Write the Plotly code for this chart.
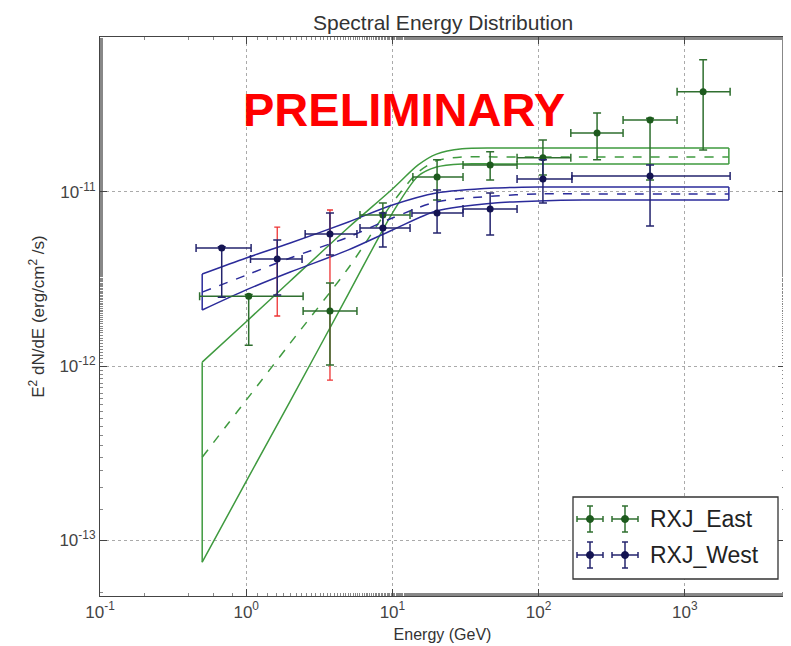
import plotly.graph_objects as go

# ---------------- data ----------------
# model bands (butterflies), energies in GeV, E^2 dN/dE in erg/cm^2/s
west_band_e = [0.5, 1, 2, 5, 10, 20, 50, 100, 200, 500, 1000, 2000]
west_upper = [3.38e-12, 4.18e-12, 5.09e-12, 6.73e-12, 8.42e-12, 9.87e-12, 1.054e-11, 1.069e-11, 1.069e-11, 1.069e-11, 1.069e-11, 1.069e-11]
west_lower = [2.10e-12, 2.74e-12, 3.47e-12, 4.65e-12, 6.05e-12, 7.78e-12, 8.65e-12, 8.88e-12, 9.00e-12, 9.00e-12, 9.00e-12, 9.00e-12]
west_center = [2.66e-12, 3.33e-12, 4.18e-12, 5.51e-12, 7.09e-12, 8.77e-12, 9.48e-12, 9.75e-12, 9.75e-12, 9.75e-12, 9.75e-12, 9.75e-12]

east_band_e = [0.5, 1, 2, 5, 10, 15, 20, 30, 50, 100, 200, 500, 1000, 2000]
east_upper = [1.054e-12, 1.80e-12, 3.08e-12, 6.25e-12, 1.04e-11, 1.43e-11, 1.65e-11, 1.77e-11, 1.79e-11, 1.79e-11, 1.79e-11, 1.79e-11, 1.79e-11, 1.79e-11]
east_lower = [7.48e-14, 2.18e-13, 6.29e-13, 2.60e-12, 7.57e-12, 1.236e-11, 1.393e-11, 1.45e-11, 1.45e-11, 1.45e-11, 1.45e-11, 1.45e-11, 1.45e-11, 1.45e-11]
east_center = [3.00e-13, 6.38e-13, 1.355e-12, 3.66e-12, 8.65e-12, 1.30e-11, 1.51e-11, 1.59e-11, 1.59e-11, 1.59e-11, 1.59e-11, 1.59e-11, 1.59e-11, 1.59e-11]

# flux points
west_e = [0.68, 1.63, 3.74, 8.6, 20.2, 46.6, 107, 578]
west_e_lo = [0.454, 1.07, 2.53, 6.0, 13.6, 30.4, 71.2, 169]
west_e_hi = [1.08, 2.41, 5.72, 13.2, 30.4, 71.2, 169, 2040]
west_f = [4.77e-12, 4.12e-12, 5.74e-12, 6.21e-12, 7.57e-12, 7.98e-12, 1.188e-11, 1.236e-11]
west_f_hi = [4.85e-12, 5.30e-12, 7.57e-12, 7.57e-12, 1.026e-11, 9.87e-12, 1.53e-11, 1.43e-11]
west_f_lo = [2.49e-12, 2.56e-12, 4.35e-12, 4.83e-12, 5.81e-12, 5.66e-12, 8.65e-12, 6.38e-12]

east_e = [1.04, 3.74, 8.6, 20.2, 46.6, 107, 251, 578, 1334]
east_e_lo = [0.48, 2.45, 6.0, 13.8, 30.4, 71.2, 166, 378, 885]
east_e_hi = [2.45, 5.72, 13.2, 30.4, 71.2, 166, 378, 885, 2040]
east_f = [2.52e-12, 2.07e-12, 7.38e-12, 1.22e-11, 1.43e-11, 1.57e-11, 2.18e-11, 2.59e-11, 3.76e-11]
east_f_hi = [2.58e-12, 3.00e-12, 8.65e-12, 1.53e-11, 1.70e-11, 1.99e-11, 2.84e-11, 2.65e-11, 5.74e-11]
east_f_lo = [1.32e-12, 1.014e-12, 6.21e-12, 9.00e-12, 1.17e-11, 1.25e-11, 1.53e-11, 1.17e-11, 1.74e-11]

# systematic (red) error bars
sys_e = [1.63, 3.74]
sys_hi = [6.29e-12, 7.88e-12]
sys_lo = [1.94e-12, 8.32e-13]

# tick labels
x_tickvals = [0.1, 1, 10, 100, 1000]
x_ticktext = ["10<sup>-1</sup>", "10<sup>0</sup>", "10<sup>1</sup>", "10<sup>2</sup>", "10<sup>3</sup>"]
y_tickvals = [1e-13, 1e-12, 1e-11]
y_ticktext = ["10<sup>-13</sup>", "10<sup>-12</sup>", "10<sup>-11</sup>"]

series_names = ["RXJ_East", "RXJ_West"]

# ---------------- styles ----------------
WEST_LINE = "#2b2b9a"
WEST_MARK = "#141452"
WEST_ERR = "#24246e"
EAST_LINE = "#3f9a3f"
EAST_MARK = "#1d5a1d"
EAST_ERR = "#2f6f2f"
FONT = "Liberation Sans, Arial, sans-serif"

W, H = 791, 646
OFF = 8  # page body margin shifts the figure by this many pixels
# plot-area geometry in screen pixels
L, R, T, B = 100, 785, 37, 596


def px(x):
    return (x - L) / (R - L)


def py(y):
    return (B - y) / (B - T)


fig = go.Figure()


def band(e, up, lo, center, color):
    for ys, dash in ((up, "solid"), (lo, "solid"), (center, "dash")):
        fig.add_trace(go.Scatter(x=e, y=ys, mode="lines",
                                 line=dict(color=color, width=1.5, dash=dash,
                                           shape="spline", smoothing=0.8),
                                 showlegend=False, hoverinfo="skip"))
    # closing edges of the butterfly at both ends
    fig.add_trace(go.Scatter(x=[e[0], e[0], None, e[-1], e[-1]],
                             y=[up[0], lo[0], None, up[-1], lo[-1]], mode="lines",
                             line=dict(color=color, width=1.5),
                             showlegend=False, hoverinfo="skip"))


band(east_band_e, east_upper, east_lower, east_center, EAST_LINE)
band(west_band_e, west_upper, west_lower, west_center, WEST_LINE)

# red systematic bars
fig.add_trace(go.Scatter(
    x=sys_e, y=sys_lo, mode="markers", marker=dict(size=1, color="rgba(0,0,0,0)"),
    error_y=dict(type="data", array=[h - l for h, l in zip(sys_hi, sys_lo)],
                 arrayminus=[0] * len(sys_e), color="#ee3333", thickness=1.3, width=3),
    showlegend=False, hoverinfo="skip"))


def points(name, e, elo, ehi, f, fhi, flo, ecolor, mcolor):
    fig.add_trace(go.Scatter(
        x=e, y=f, mode="markers", name=name, showlegend=False,
        marker=dict(size=7, color=mcolor),
        error_y=dict(type="data", array=[h - v for h, v in zip(fhi, f)],
                     arrayminus=[v - l for v, l in zip(f, flo)],
                     color=ecolor, thickness=1.5, width=4),
        error_x=dict(type="data", array=[h - v for h, v in zip(ehi, e)],
                     arrayminus=[v - l for v, l in zip(e, elo)],
                     color=ecolor, thickness=1.5, width=4),
    ))


points(series_names[0], east_e, east_e_lo, east_e_hi, east_f, east_f_hi, east_f_lo, EAST_ERR, EAST_MARK)
points(series_names[1], west_e, west_e_lo, west_e_hi, west_f, west_f_hi, west_f_lo, WEST_ERR, WEST_MARK)

# ---------------- hand-drawn legend (matplotlib style, numpoints=2) ----------------
shapes = []
annotations = []
shapes.append(dict(type="rect", xref="paper", yref="paper",
                   x0=px(573), x1=px(778), y0=py(579), y1=py(497),
                   line=dict(color="#333", width=1.3), fillcolor="white", layer="above"))
legend_rows = [(519, EAST_ERR, EAST_MARK), (555, WEST_ERR, WEST_MARK)]
for (yrow, ecol, mcol), name in zip(legend_rows, series_names):
    for xc in (590, 625):
        seg = dict(xref="paper", yref="paper", type="line", layer="above",
                   line=dict(color=ecol, width=1.5))
        shapes.append({**seg, "x0": px(xc - 13), "x1": px(xc + 13), "y0": py(yrow), "y1": py(yrow)})
        shapes.append({**seg, "x0": px(xc), "x1": px(xc), "y0": py(yrow - 13), "y1": py(yrow + 13)})
        for dx in (-13, 13):
            shapes.append({**seg, "x0": px(xc + dx), "x1": px(xc + dx), "y0": py(yrow - 3), "y1": py(yrow + 3)})
        for dy in (-13, 13):
            shapes.append({**seg, "x0": px(xc - 3), "x1": px(xc + 3), "y0": py(yrow + dy), "y1": py(yrow + dy)})
        shapes.append(dict(type="circle", xref="paper", yref="paper", layer="above",
                           x0=px(xc - 3.5), x1=px(xc + 3.5), y0=py(yrow + 3.5), y1=py(yrow - 3.5),
                           fillcolor=mcol, line=dict(color=mcol, width=1)))
    annotations.append(dict(text=name, xref="paper", yref="paper", x=px(648), y=py(yrow),
                            xanchor="left", yanchor="middle", showarrow=False,
                            font=dict(family=FONT, size=23, color="#222")))

annotations.append(dict(text="<b>PRELIMINARY</b>", xref="paper", yref="paper",
                        x=px(404), y=py(110), xanchor="center", yanchor="middle",
                        showarrow=False,
                        font=dict(family=FONT, size=47, color="#ff0000")))

# chart title, placed just inside the top of the figure
annotations.append(dict(text="Spectral Energy Distribution", xref="paper", yref="paper",
                        x=px(443), y=py(OFF + 1), xanchor="center", yanchor="top",
                        showarrow=False,
                        font=dict(family=FONT, size=21, color="#333")))

axis_common = dict(
    type="log", ticks="inside", ticklen=7, tickcolor="#444",
    minor=dict(ticks="inside", ticklen=3, tickcolor="#888", showgrid=False),
    showgrid=True, gridcolor="#aaaaaa", griddash="dot", gridwidth=1,
    showline=True, linecolor="#444", linewidth=1.2, mirror="allticks",
    zeroline=False, automargin=False,
    tickfont=dict(family=FONT, size=17, color="#444"),
)

fig.update_layout(
    width=W, height=H,
    margin=dict(l=L - OFF, r=W - (R - OFF), t=T - OFF, b=H - (B - OFF)),
    paper_bgcolor="white", plot_bgcolor="white",
    showlegend=False,
    xaxis=dict(range=[-1, 3.685], tickvals=x_tickvals, ticktext=x_ticktext,
               title=dict(text="Energy (GeV)", standoff=8,
                          font=dict(family=FONT, size=16, color="#333")),
               **axis_common),
    yaxis=dict(range=[-13.32, -10.11], tickvals=y_tickvals, ticktext=y_ticktext,
               title=dict(text="E<sup>2</sup> dN/dE (erg/cm<sup>2</sup> /s)", standoff=10,
                          font=dict(family=FONT, size=17, color="#333")),
               **axis_common),
    shapes=shapes,
    annotations=annotations,
)

fig.write_html("out.html")
